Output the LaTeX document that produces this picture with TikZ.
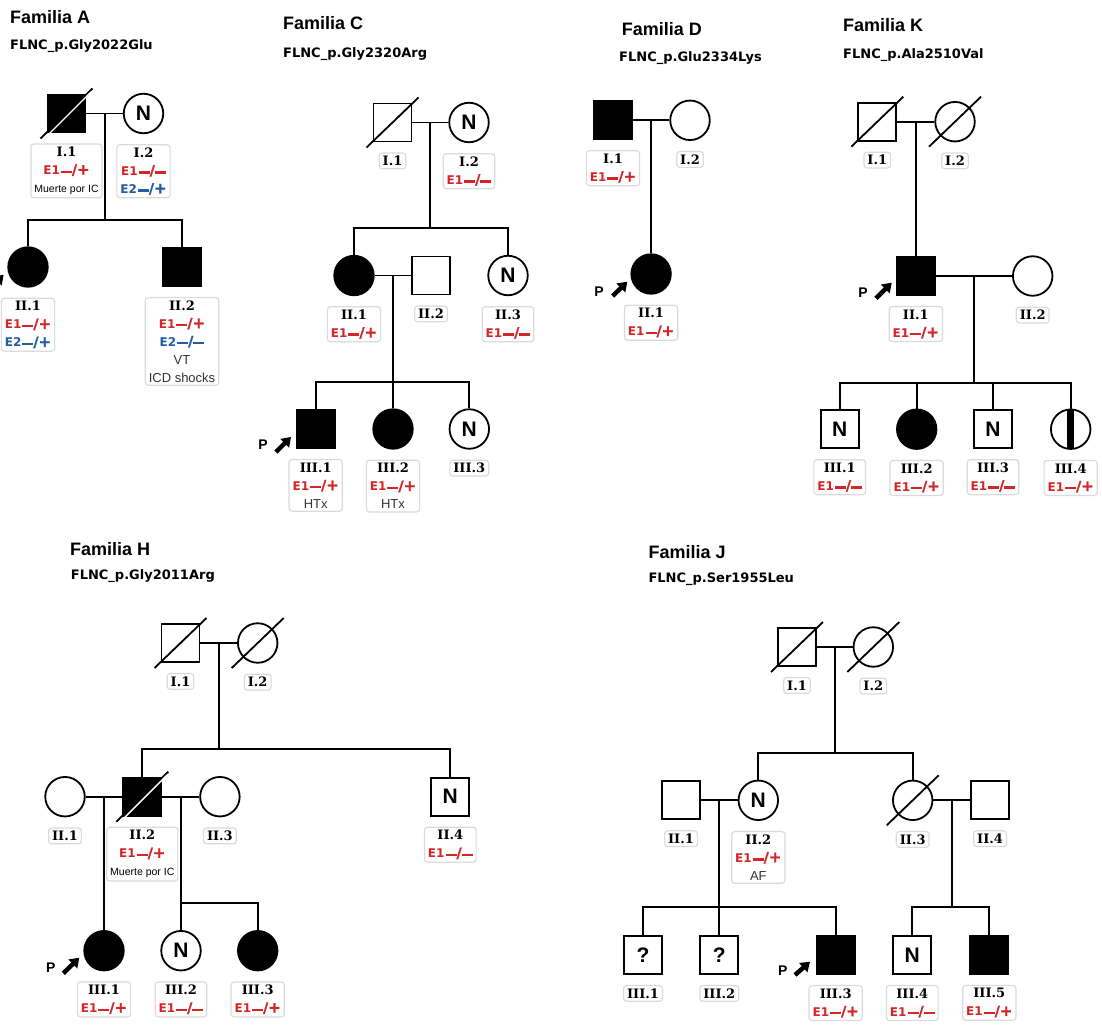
\documentclass[tikz,border=0pt]{standalone}
\usepackage{fontspec}
\setmainfont{Liberation Sans}
\newfontfamily\idfont{DejaVu Serif}
\newfontfamily\genfont{DejaVu Sans}
\newfontfamily\genheavy{DejaVu Sans Bold}[FakeBold=1.5]
\usetikzlibrary{positioning, arrows.meta, calc}

\definecolor{genred}{RGB}{212,38,38}
\definecolor{genblue}{RGB}{33,92,164}

% genotype lines and small notes inside the label boxes
\newcommand{\gdash}{\rule[1.7pt]{11pt}{2.3pt}}
\newcommand{\gslash}{{\genheavy\fontsize{14}{14}\selectfont /}}
\newcommand{\gplus}{{\genheavy\fontsize{15}{15}\selectfont +}}
\newcommand{\eone}[1]{{\color{genred}{\genfont\fontsize{12}{12}\selectfont E1}\kern1pt\gdash\gslash#1}}
\newcommand{\etwo}[1]{{\color{genblue}{\genfont\fontsize{12}{12}\selectfont E2}\kern1pt\gdash\gslash#1}}
\newcommand{\smallnote}[1]{{\normalfont\fontsize{10.5}{10.5}\selectfont #1}}
\newcommand{\clinnote}[1]{{\normalfont\color{black!80}\fontsize{13}{13}\selectfont #1}}
% deceased slash
\newcommand{\dead}[1]{\draw[link] ([shift={(-26pt,-25pt)}]#1.center) -- ([shift={(26pt,25pt)}]#1.center);}
\newcommand{\deadfill}[1]{\dead{#1}\draw[cut] ([shift={(-24pt,-27pt)}]#1.center) -- ([shift={(24.5pt,21.5pt)}]#1.center);}

\begin{document}
\begin{tikzpicture}[x=1pt, y=-1pt,
    ind/.style={draw, line width=1.8pt, inner sep=0pt, font=\bfseries\fontsize{21}{21}\selectfont},
    male/.style={ind, rectangle, minimum size=38pt},
    female/.style={ind, circle, minimum size=39.5pt},
    aff/.style={fill=black},
    bar/.style={path picture={\fill ([xshift=-3.5pt]path picture bounding box.south) rectangle ([xshift=3.5pt]path picture bounding box.north);}},
    tag/.style={draw=black!14, line width=1.2pt, rounded corners=3pt, fill=white, align=center,
      inner xsep=3.5pt, inner ysep=3pt, font=\idfont\bfseries\fontsize{13}{18}\selectfont},
    link/.style={line width=1.8pt},
    cut/.style={white, line width=1.4pt},
    parrow/.style={line width=4.5pt, -{Triangle[length=9pt,width=12pt]}},
    ptext/.style={font=\bfseries\fontsize{14}{14}\selectfont},
    fam/.style={anchor=base west, inner sep=0pt, font=\bfseries\fontsize{18}{18}\selectfont},
    var/.style={anchor=base west, inner sep=0pt, font=\genfont\bfseries\fontsize{13}{13}\selectfont}]
  \fill[white] (0,0) rectangle (1102,1025);
  \useasboundingbox (0,0) rectangle (1102,1025);

  % ---------------- Familia A
  \node[fam] (aTitle) at (10,24) {Familia A};
  \node[var] (aVar) at (10,49) {FLNC\_p.Gly2022Glu};
  \node[male, aff] (aI1) at (66.5,113.5) {};
  \node[female] (aI2) at (143.5,113.5) {N};
  \node[female, aff] (aII1) at (28,267) {};
  \node[male, aff] (aII2) at (182,267) {};
  \deadfill{aI1}
  \draw[link] (aI1) -- coordinate (aM) (aI2);
  \draw[link] (aM) -- ++(0,106.5) coordinate (aS);
  \draw[link] (aII1.north) |- (aS) -| (aII2.north);
  \node[tag, below=10pt of aI1] (aI1t) {I.1\\\eone{\gplus}\\\smallnote{Muerte por IC}};
  \node[tag, below=10pt of aI2] (aI2t) {I.2\\\eone{\gdash}\\\etwo{\gplus}};
  \node[tag, below=10pt of aII1] (aII1t) {II.1\\\eone{\gplus}\\\etwo{\gplus}};
  \node[tag, below=10pt of aII2] (aII2t) {II.2\\\eone{\gplus}\\\etwo{\gdash}\\\clinnote{VT}\\\clinnote{ICD shocks}};
  \coordinate (aPa) at (-11,289.5);
  \coordinate (aPb) at (3.6,274.7);
  \draw[parrow] (aPa) -- (aPb);

  % ---------------- Familia C
  \node[fam] (cTitle) at (283,30) {Familia C};
  \node[var] (cVar) at (283,58) {FLNC\_p.Gly2320Arg};
  \node[male] (cI1) at (392.5,122.5) {};
  \node[female] (cI2) at (469,122.5) {N};
  \node[female, aff] (cII1) at (354,275.5) {};
  \node[male] (cII2) at (431,275.5) {};
  \node[female] (cII3) at (508,275.5) {N};
  \node[male, aff] (cIII1) at (315.7,429) {};
  \node[female, aff] (cIII2) at (393,429) {};
  \node[female] (cIII3) at (469.3,429) {N};
  \dead{cI1}
  \draw[link] (cI1) -- coordinate (cM1) (cI2);
  \draw[link] (cM1) -- ++(0,105.5) coordinate (cS1);
  \draw[link] (cII1.north) |- (cS1) -| (cII3.north);
  \draw[link] (cII1) -- coordinate (cM2) (cII2);
  \draw[link] (cM2) -- ++(0,106.2) coordinate (cS2);
  \draw[link] (cIII1.north) |- (cS2) -| (cIII3.north);
  \draw[link] (cS2) -- (cS2 |- cIII2.north);
  \node[tag, below=10pt of cI1] (cI1t) {I.1};
  \node[tag, below=10pt of cI2] (cI2t) {I.2\\\eone{\gdash}};
  \node[tag, below=10pt of cII1] (cII1t) {II.1\\\eone{\gplus}};
  \node[tag, below=10pt of cII2] (cII2t) {II.2};
  \node[tag, below=10pt of cII3] (cII3t) {II.3\\\eone{\gdash}};
  \node[tag, below=10pt of cIII1] (cIII1t) {III.1\\\eone{\gplus}\\\clinnote{HTx}};
  \node[tag, below=10pt of cIII2] (cIII2t) {III.2\\\eone{\gplus}\\\clinnote{HTx}};
  \node[tag, below=10pt of cIII3] (cIII3t) {III.3};
  \node[ptext] (cP) at (263,445) {P};
  \coordinate (cPa) at (276,452);
  \coordinate (cPb) at (291,437);
  \draw[parrow] (cPa) -- (cPb);

  % ---------------- Familia D
  \node[fam] (dTitle) at (621.7,36) {Familia D};
  \node[var] (dVar) at (619,62) {FLNC\_p.Glu2334Lys};
  \node[male, aff] (dI1) at (613,120.3) {};
  \node[female] (dI2) at (690,120.3) {};
  \node[female, aff] (dII1) at (651.1,274) {};
  \draw[link] (dI1) -- coordinate (dM) (dI2);
  \draw[link] (dM) -- (dM |- dII1.north);
  \node[tag, below=10pt of dI1] (dI1t) {I.1\\\eone{\gplus}};
  \node[tag, below=10pt of dI2] (dI2t) {I.2};
  \node[tag, below=10pt of dII1] (dII1t) {II.1\\\eone{\gplus}};
  \node[ptext] (dP) at (599,291.7) {P};
  \coordinate (dPa) at (612.7,296);
  \coordinate (dPb) at (627.3,281.7);
  \draw[parrow] (dPa) -- (dPb);

  % ---------------- Familia K
  \node[fam] (kTitle) at (843,31.5) {Familia K};
  \node[var] (kVar) at (843,59) {FLNC\_p.Ala2510Val};
  \node[male] (kI1) at (877.3,121.7) {};
  \node[female] (kI2) at (955,121.7) {};
  \node[male, aff] (kII1) at (915.8,276) {};
  \node[female] (kII2) at (1032.7,276) {};
  \node[male] (kIII1) at (839.7,429.2) {N};
  \node[female, aff] (kIII2) at (916.7,429.2) {};
  \node[male] (kIII3) at (993,429.2) {N};
  \node[female, bar] (kIII4) at (1070.7,429.2) {};
  \dead{kI1}
  \dead{kI2}
  \draw[link] (kI1) -- coordinate (kM1) (kI2);
  \draw[link] (kM1) -- (kM1 |- kII1.north);
  \draw[link] (kII1) -- coordinate (kM2) (kII2);
  \draw[link] (kM2) -- ++(0,106.7) coordinate (kS);
  \draw[link] (kIII1.north) |- (kS) -| (kIII4.north);
  \draw[link] (kIII2.north) -- (kIII2.north |- kS);
  \draw[link] (kIII3.north) -- (kIII3.north |- kS);
  \node[tag, below=10pt of kI1] (kI1t) {I.1};
  \node[tag, below=10pt of kI2] (kI2t) {I.2};
  \node[tag, below=10pt of kII1] (kII1t) {II.1\\\eone{\gplus}};
  \node[tag, below=10pt of kII2] (kII2t) {II.2};
  \node[tag, below=10pt of kIII1] (kIII1t) {III.1\\\eone{\gdash}};
  \node[tag, below=10pt of kIII2] (kIII2t) {III.2\\\eone{\gplus}};
  \node[tag, below=10pt of kIII3] (kIII3t) {III.3\\\eone{\gdash}};
  \node[tag, below=10pt of kIII4] (kIII4t) {III.4\\\eone{\gplus}};
  \node[ptext] (kP) at (863,293) {P};
  \coordinate (kPa) at (876,298.3);
  \coordinate (kPb) at (891.7,282.7);
  \draw[parrow] (kPa) -- (kPb);

  % ---------------- Familia H
  \node[fam] (hTitle) at (70,555) {Familia H};
  \node[var] (hVar) at (70.7,579) {FLNC\_p.Gly2011Arg};
  \node[male] (hI1) at (180.5,643) {};
  \node[female] (hI2) at (257.7,643) {};
  \node[female] (hII1) at (65,796.7) {};
  \node[male, aff] (hII2) at (142.3,796.7) {};
  \node[female] (hII3) at (219.9,796.7) {};
  \node[male] (hII4) at (450.3,796.7) {N};
  \node[female, aff] (hIII1) at (104,950.7) {};
  \node[female] (hIII2) at (181,950.7) {N};
  \node[female, aff] (hIII3) at (257.7,950.7) {};
  \dead{hI1}
  \dead{hI2}
  \deadfill{hII2}
  \draw[link] (hI1) -- coordinate (hM1) (hI2);
  \draw[link] (hM1) -- ++(0,106) coordinate (hS1);
  \draw[link] (hII2.north) |- (hS1) -| (hII4.north);
  \draw[link] (hII1) -- coordinate (hM2) (hII2);
  \draw[link] (hM2) -- (hM2 |- hIII1.north);
  \draw[link] (hII2) -- coordinate (hM3) (hII3);
  \draw[link] (hM3) -- ++(0,106) coordinate (hS3);
  \draw[link] (hS3) -- (hS3 |- hIII2.north);
  \draw[link] (hS3) -| (hIII3.north);
  \node[tag, below=10pt of hI1] (hI1t) {I.1};
  \node[tag, below=10pt of hI2] (hI2t) {I.2};
  \node[tag, below=10pt of hII1] (hII1t) {II.1};
  \node[tag, below=10pt of hII2] (hII2t) {II.2\\\eone{\gplus}\\\smallnote{Muerte por IC}};
  \node[tag, below=10pt of hII3] (hII3t) {II.3};
  \node[tag, below=10pt of hII4] (hII4t) {II.4\\\eone{\gdash}};
  \node[tag, below=10pt of hIII1] (hIII1t) {III.1\\\eone{\gplus}};
  \node[tag, below=10pt of hIII2] (hIII2t) {III.2\\\eone{\gdash}};
  \node[tag, below=10pt of hIII3] (hIII3t) {III.3\\\eone{\gplus}};
  \node[ptext] (hP) at (50.7,967.3) {P};
  \coordinate (hPa) at (63.3,973.3);
  \coordinate (hPb) at (79.3,957.7);
  \draw[parrow] (hPa) -- (hPb);

  % ---------------- Familia J
  \node[fam] (jTitle) at (648.3,558) {Familia J};
  \node[var] (jVar) at (648.3,582) {FLNC\_p.Ser1955Leu};
  \node[male] (jI1) at (797,647) {};
  \node[female] (jI2) at (873.3,647) {};
  \node[male] (jII1) at (681,800.3) {};
  \node[female] (jII2) at (758.3,800.3) {N};
  \node[female] (jII3) at (912.7,800.3) {};
  \node[male] (jII4) at (990.1,800.3) {};
  \node[male] (jIII1) at (643,955) {?};
  \node[male] (jIII2) at (719.3,955) {?};
  \node[male, aff] (jIII3) at (835.7,955) {};
  \node[male] (jIII4) at (912.3,955) {N};
  \node[male, aff] (jIII5) at (989.3,955) {};
  \dead{jI1}
  \dead{jI2}
  \dead{jII3}
  \draw[link] (jI1) -- coordinate (jM1) (jI2);
  \draw[link] (jM1) -- ++(0,105.7) coordinate (jS1);
  \draw[link] (jII2.north) |- (jS1) -| (jII3.north);
  \draw[link] (jII1) -- coordinate (jM2) (jII2);
  \draw[link] (jM2) -- ++(0,107) coordinate (jS2);
  \draw[link] (jIII1.north) |- (jS2) -| (jIII3.north);
  \draw[link] (jS2) -- (jS2 |- jIII2.north);
  \draw[link] (jII3) -- coordinate (jM3) (jII4);
  \draw[link] (jM3) -- ++(0,107) coordinate (jS3);
  \draw[link] (jIII4.north) |- (jS3) -| (jIII5.north);
  \node[tag, below=10pt of jI1] (jI1t) {I.1};
  \node[tag, below=10pt of jI2] (jI2t) {I.2};
  \node[tag, below=10pt of jII1] (jII1t) {II.1};
  \node[tag, below=10pt of jII2] (jII2t) {II.2\\\eone{\gplus}\\\clinnote{AF}};
  \node[tag, below=10pt of jII3] (jII3t) {II.3};
  \node[tag, below=10pt of jII4] (jII4t) {II.4};
  \node[tag, below=10pt of jIII1] (jIII1t) {III.1};
  \node[tag, below=10pt of jIII2] (jIII2t) {III.2};
  \node[tag, below=10pt of jIII3] (jIII3t) {III.3\\\eone{\gplus}};
  \node[tag, below=10pt of jIII4] (jIII4t) {III.4\\\eone{\gdash}};
  \node[tag, below=10pt of jIII5] (jIII5t) {III.5\\\eone{\gplus}};
  \node[ptext] (jP) at (782.7,970.7) {P};
  \coordinate (jPa) at (795,975);
  \coordinate (jPb) at (810,961.7);
  \draw[parrow] (jPa) -- (jPb);
\end{tikzpicture}
\end{document}
